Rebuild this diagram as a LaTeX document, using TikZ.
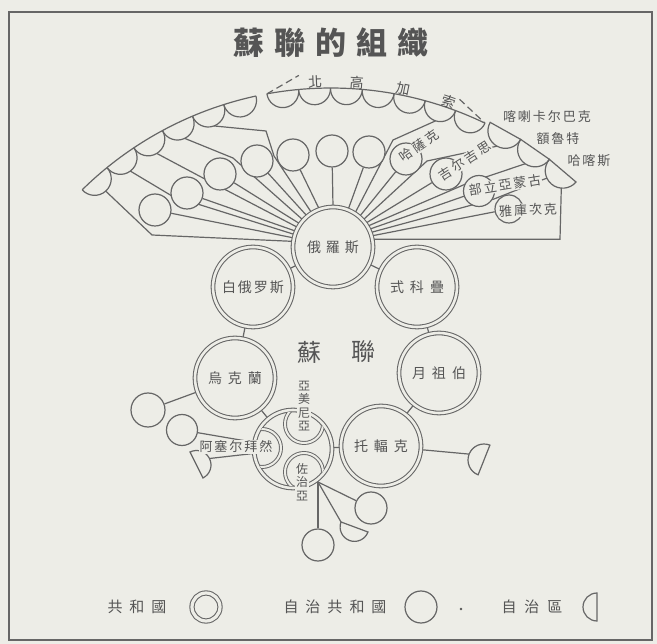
\documentclass[tikz,border=0pt]{standalone}
\usepackage{fontspec}
\newfontfamily\cjk{Noto Sans CJK TC}
\usetikzlibrary{calc}
\definecolor{bg}{HTML}{EDEDE7}
\definecolor{lc}{HTML}{666666}
\definecolor{tc}{HTML}{555555}
\pgfdeclarelayer{paper}
\pgfdeclarelayer{wires}
\pgfsetlayers{paper,wires,main}
% D-shaped half disc: centre x, centre y, radius, bulge direction (angle, y downwards)
\newcommand\semid[4]{\draw[ln,fill=bg] ($(#1,#2)+({#4-90}:#3)$) arc[start angle={#4-90}, delta angle=180, radius=#3] -- cycle;}
\begin{document}
\begin{tikzpicture}[x=1pt,y=-1pt,
  ln/.style={draw=lc, line width=1.2pt},
  rep/.style={circle, draw=lc, line width=1.05pt, double=bg, double distance=2.6pt, fill=bg,
              minimum size=80pt, inner sep=0pt, text=tc, font=\cjk\fontsize{14}{14}\selectfont},
  asr/.style={circle, draw=lc, line width=1.2pt, fill=bg, minimum size=32pt, inner sep=0pt},
  lbl/.style={text=tc, inner sep=0.6pt, fill=bg, font=\cjk\fontsize{13}{13}\selectfont},
  big/.style={text=tc, inner sep=0pt, font=\cjk\fontsize{24}{24}\selectfont},
  leg/.style={text=tc, inner sep=0pt, font=\cjk\fontsize{15}{15}\selectfont}]
\useasboundingbox (0,0) rectangle (657,644);
\begin{pgfonlayer}{paper}
  \fill[bg] (0,0) rectangle (657,644);
  \draw[lc, line width=1.6pt] (9,12) rectangle (652,640);
\end{pgfonlayer}

% title
\node[text=tc, inner sep=0pt, font=\cjk\bfseries\fontsize{31}{31}\selectfont] (title) at (331,43)
  {蘇\kern10pt聯\kern10pt的\kern10pt組\kern10pt織};

% ---------- great arc with autonomous regions ----------
\coordinate (BC) at (331,443);
\draw[ln] ($(BC)+(-134.5:355)$) arc[start angle=-134.5, end angle=-102.2, radius=355];
\draw[ln] ($(BC)+(-100.4:355)$) arc[start angle=-100.4, end angle=-64.3, radius=355];
\foreach \t in {131.81,126.43,121.04,115.66,110.27,104.89}
  \draw[ln] ($(BC)+({-(\t+2.69)}:355)$) arc[start angle={-(\t+90)}, delta angle=-180, radius={355*sin(2.69)}];
\foreach \t in {97.82,92.66,87.50,82.34,77.18,72.03,66.87}
  \draw[ln] ($(BC)+({-(\t+2.579)}:355)$) arc[start angle={-(\t+90)}, delta angle=-180, radius={355*sin(2.579)}];
\foreach \t in {60.8,55.2,49.6}
  \draw[ln] ($(BC)+({-(\t+2.8)}:358)$) arc[start angle={-(\t+90)}, delta angle=-180, radius={358*sin(2.8)}] -- cycle;
% North Caucasus bracket
\draw[ln, dash pattern=on 7pt off 4pt] ($(BC)+(-100.4:355)$) -- ($(BC)+(-95:369)$);
\draw[ln, dash pattern=on 7pt off 4pt] ($(BC)+(-69.5:367)$) -- ($(BC)+(-64.3:355)$);
\node[text=tc, inner sep=0pt, font=\cjk\fontsize{14}{14}\selectfont, rotate=2.5] (nk1) at ($(BC)+(-92.5:361)$) {北};
\node[text=tc, inner sep=0pt, font=\cjk\fontsize{14}{14}\selectfont, rotate=-4.1] (nk2) at ($(BC)+(-85.9:361)$) {高};
\node[text=tc, inner sep=0pt, font=\cjk\fontsize{14}{14}\selectfont, rotate=-11.5] (nk3) at ($(BC)+(-78.5:361)$) {加};
\node[text=tc, inner sep=0pt, font=\cjk\fontsize{14}{14}\selectfont, rotate=-19] (nk4) at ($(BC)+(-71:361)$) {索};

% start points of the fan lines
\coordinate (sA) at ($(BC)+(-131.81:338)$);
\coordinate (sB) at ($(BC)+(-126.43:338)$);
\coordinate (sC) at ($(BC)+(-121.04:338)$);
\coordinate (sD) at ($(BC)+(-115.66:338)$);
\coordinate (sE) at ($(BC)+(-110.27:338)$);
\coordinate (sN) at ($(BC)+(-72.03:338.6)$);
\coordinate (sT1) at ($(BC)+(-60.8:340)$);
\coordinate (sT2) at ($(BC)+(-55.2:340)$);
\coordinate (sT3a) at (546.9,178.1);
\coordinate (sT3b) at (561.3,188.1);

% ---------- union republics ----------
\node[rep] (rus) at (333,247) {俄\kern5pt羅\kern5pt斯};
\node[rep] (bel) at (253,287) {白\kern2pt俄\kern2pt罗\kern2pt斯};
\node[rep] (sk)  at (417,287) {式\kern6pt科\kern6pt疊};
\node[rep] (ukr) at (235,378) {烏\kern6pt克\kern6pt蘭};
\node[rep] (uzb) at (439,373) {月\kern6pt祖\kern6pt伯};
\node[rep] (tur) at (381,446) {托\kern6pt輻\kern6pt克};
\node[rep, minimum size=78pt] (tc) at (293,449) {};
\begin{scope}
  \clip (293,449) circle (37.2);
  \foreach \p in {(304,424),(262,448),(304,472)}
    \draw[lc, line width=0.95pt, double=bg, double distance=2pt] \p circle (19);
\end{scope}
\node[big] (su) at (309,352) {蘇};
\node[big] (lian) at (363,352) {聯};

% ---------- autonomous republics ----------
\node[asr] (c1) at (155,210) {};
\node[asr] (c2) at (187,193) {};
\node[asr] (c3) at (220,174) {};
\node[asr] (c4) at (257,161) {};
\node[asr] (c5) at (293,155) {};
\node[asr] (c6) at (332,151) {};
\node[asr] (c7) at (369,152) {};
\node[asr] (kz) at (406,159) {};
\node[asr] (kg) at (446,174) {};
\node[asr, minimum size=31pt] (bm) at (479,191) {};
\node[asr, minimum size=28pt] (ya) at (509,209) {};
\node[asr, minimum size=34pt] (md) at (148,410) {};
\node[asr, minimum size=31pt] (nk) at (182,430) {};
\node[asr] (g1) at (318,545) {};
\node[asr] (g3) at (371,508) {};

% autonomous regions near the bottom
\semid{196.5}{465}{14.5}{-26.6}
\coordinate (kbp) at (209.5,458.5);
\semid{484}{460}{16}{201.7}
\coordinate (tkp) at (469.1,454.1);
\semid{354.5}{527}{14.4}{110.4}
\coordinate (g2p) at (341,522);
\coordinate (gsrc) at (318,482);

% ---------- connectors ----------
\begin{pgfonlayer}{wires}
  % left fan
  \draw[ln] (sA) -- (152,235) -- (rus.172);
  \draw[ln] (c1) -- (rus.167);
  \draw[ln] (sB) -- (172,196) -- (rus.162);
  \draw[ln] (c2) -- (rus.157);
  \draw[ln] (sC) -- (203,178) -- (rus.151);
  \draw[ln] (c3) -- (rus.145);
  \draw[ln] (sD) -- (233,158) -- (rus.138);
  \draw[ln] (c4) -- (rus.130);
  \draw[ln] (sE) -- (266,131) -- (274,156) -- (rus.122);
  \draw[ln] (c5) -- (rus.110);
  \draw[ln] (c6) -- (rus.90);
  % right fan
  \draw[ln] (c7) -- (rus.68);
  \draw[ln] (sN) -- (393,140) -- (rus.57);
  \draw[ln] (kz) -- (rus.49);
  \draw[ln] (sT1) -- (427,161) -- (rus.42);
  \draw[ln] (kg) -- (rus.36);
  \draw[ln] (sT2) -- (468,183) -- (rus.31);
  \draw[ln] (bm) -- (rus.26);
  \draw[ln] (sT3a) -- (494,199) -- (rus.21);
  \draw[ln] (ya) -- (rus.16);
  \draw[ln] (sT3b) -- (560,239.3) -- (rus.11);
  % ring of the union
  \draw[ln] (rus) -- (bel);
  \draw[ln] (rus) -- (sk);
  \draw[ln] (bel) -- (ukr);
  \draw[ln] (sk) -- (uzb);
  \draw[ln] (ukr) -- (tc);
  \draw[ln] (uzb) -- (tur);
  \draw[ln] (tc) -- (tur);
  % outer members
  \draw[ln] (ukr) -- (md);
  \draw[ln] (nk) -- (tc);
  \draw[ln] (kbp) -- (tc);
  \draw[ln] (tur) -- (tkp);
  \draw[ln] (gsrc) -- (g1);
  \draw[ln] (gsrc) -- (g2p);
  \draw[ln] (gsrc) -- (g3);
\end{pgfonlayer}

% ---------- labels ----------
\node[lbl] (l1) at (547,117) {喀\kern2pt喇\kern2pt卡\kern2pt尔\kern2pt巴\kern2pt克};
\node[lbl] (l2) at (558,139) {額\kern2pt魯\kern2pt特};
\node[lbl] (l3) at (589,161) {哈\kern2pt喀\kern2pt斯};
\node[lbl, rotate=35] (l4) at (419,146) {哈\kern2.5pt薩\kern2.5pt克};
\node[lbl, rotate=33] (l5) at (465,161) {吉\kern2.5pt尔\kern2.5pt吉\kern2.5pt思};
\node[lbl, rotate=9] (l6) at (505,185) {部\kern2pt立\kern2pt亞\kern2pt蒙\kern2pt古};
\node[lbl, rotate=3] (l7) at (528,210) {雅\kern2pt庫\kern2pt次\kern2pt克};
\node[lbl, align=center, font=\cjk\fontsize{12}{13.5}\selectfont] (arm) at (304,406) {亞\\美\\尼\\亞};
\node[lbl, align=center, font=\cjk\fontsize{12}{13.5}\selectfont] (geo) at (302,482) {佐\\治\\亞};
\node[lbl, font=\cjk\fontsize{13}{13}\selectfont] (aze) at (236,447) {阿\kern2pt塞\kern2pt尔\kern2pt拜\kern2pt然};

% ---------- legend ----------
\node[leg] (lg1) at (137,607) {共\kern7pt和\kern7pt國};
\node[rep, minimum size=28pt, double distance=3.2pt] (lgr) at (206,607) {};
\node[leg] (lg2) at (335,607) {自\kern7pt治\kern7pt共\kern7pt和\kern7pt國};
\node[asr, minimum size=32pt] (lga) at (421,607) {};
\fill[tc] (461,609) circle (1.3);
\node[leg] (lg3) at (532,607) {自\kern8pt治\kern8pt區};
\semid{597}{607}{14}{180}
\end{tikzpicture}
\end{document}
